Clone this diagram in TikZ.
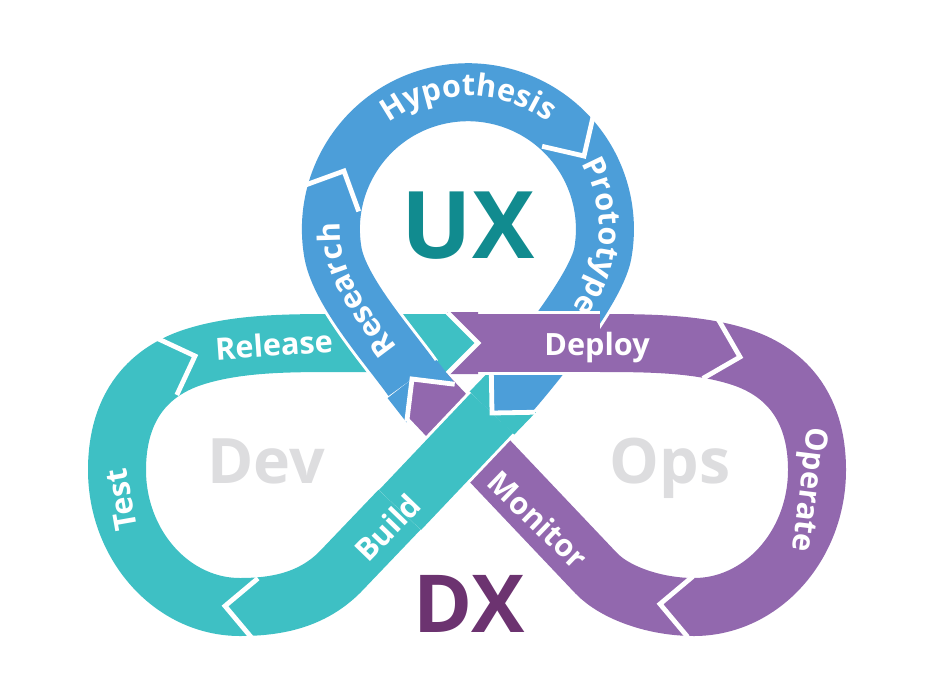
\documentclass[tikz,border=0pt]{standalone}
\usepackage{fontspec}
\setmainfont{Open Sans}
\usetikzlibrary{decorations.text}

\definecolor{uxblue}{RGB}{76,158,217}
\definecolor{devteal}{RGB}{62,192,196}
\definecolor{opspurple}{RGB}{146,104,174}
\definecolor{uxtext}{RGB}{17,139,143}
\definecolor{dxtext}{RGB}{108,51,112}
\definecolor{loopgrey}{RGB}{221,221,223}

\newcommand{\bandfont}{\fontsize{23}{27}\selectfont\bfseries}

\begin{document}
\begin{tikzpicture}[x=0.75pt,y=0.75pt,yscale=-1,xscale=1,
  band/.style={line width=43.5pt},
  over/.style={preaction={draw=white, line width=48pt}},
  chev/.style={draw=white, line width=3.6pt},
  lbl/.style={text=white, font=\bandfont, inner sep=0pt, text height=16.4pt, text depth=0pt},
  bigtext/.style={font=\fontsize{#1}{#1}\selectfont\bfseries, inner sep=0pt, text height=0.714*#1, text depth=0pt}
]
\useasboundingbox (0,0) rectangle (927,699);

% junctions where the colour changes
\coordinate (J1) at (478,343);
\coordinate (J2) at (492,413);
\coordinate (J3) at (412,379);

% Build, Test and Release
\draw[band, devteal] (J2) -- (340,572) .. controls (312,600) and (277,607) .. (240,607)
  .. controls (172,607) and (117,545) .. (117,470)
  .. controls (117,405) and (150,370) .. (197,356)
  .. controls (240,343) and (290,343) .. (340,343) -- (J1);

% Deploy, Operate and Monitor
\draw[band, opspurple] (J1) -- (594,343) .. controls (644,343) and (694,343) .. (737,356)
  .. controls (784,370) and (817,405) .. (817,470)
  .. controls (817,545) and (762,607) .. (694,607)
  .. controls (655,607) and (615,593) .. (596,573) -- (J3);

% Research, Hypothesis, Prototype
\draw[band, uxblue, over] (J3) .. controls (390,348) and (340,292) .. (333,253)
  arc[start angle=170, end angle=370, radius=137]
  .. controls (596,292) and (520,384) .. (J2);

% Monitor -> Research
\fill[uxblue] (J3) -- ++(322:31) -- ++(52:31) -- cycle;
\fill[uxblue] (J3) -- ++(142:31) -- ++(52:31) -- cycle;
\draw[chev] (J3) ++(7:43) -- (J3) -- ++(97:43);

% Build again, over Monitor
\draw[band, devteal, over] (J2) -- (400,510);

% Prototype -> Build
\fill[devteal] (J2) -- ++(224:31) -- ++(314:31) -- cycle;
\fill[devteal] (J2) -- ++(44:31) -- ++(314:31) -- cycle;
\draw[chev] (J2) ++(269:43) -- (J2) -- ++(359:43);

% Deploy again, over Prototype
\draw[band, opspurple, over] (J1) -- (600,343);

% Release -> Deploy
\fill[opspurple] (J1) -- ++(90:31) -- ++(180:31) -- cycle;
\fill[opspurple] (J1) -- ++(270:31) -- ++(180:31) -- cycle;
\draw[chev] (J1) ++(135:43) -- (J1) -- ++(225:43);

% chevrons inside one colour
\foreach \x/\y/\a in {195/356/340, 225/606/185, 740/357/15, 660/604/185, 344/171/295, 584/156/58}
  \draw[chev] (\x,\y) ++(\a+135:43) -- (\x,\y) -- ++(\a-135:43);

% curved labels
\path[decorate, decoration={text along path, text={|\bandfont|Hypothesis}, text color=white, text align=center}]
  (366.1,143.5) arc[start angle=220, end angle=320, radius=133];
\path[decorate, decoration={text along path, text={|\bandfont|Prototype}, text color=white, text align=center}]
  (568.4,144.8) arc[start angle=-40, end angle=47, radius=131];
\path[decorate, decoration={text along path, text={|\bandfont|Research}, text color=white, text align=center}]
  (420,378) .. controls (398,346) and (349,291) .. (342,251) arc[start angle=170, end angle=200, radius=128];

% straight labels
\node[lbl, rotate=4] (release) at (274,345) {Release};
\node[lbl] (deploy) at (597,345) {Deploy};
\node[lbl, rotate=46] (build) at (388,528) {Build};
\node[lbl, rotate=-44] (monitor) at (538,520) {Monitor};
\node[lbl, rotate=100] (test) at (121,500) {Test};
\node[lbl, rotate=-97] (operate) at (811,490) {Operate};

% loop names
\node[bigtext=70, text=uxtext] (ux) at (468,225) {UX};
\node[bigtext=47, text=loopgrey] (dev) at (266,461) {Dev};
\node[bigtext=47, text=loopgrey] (ops) at (670,461) {Ops};
\node[bigtext=60, text=dxtext] (dx) at (469,604) {DX};
\end{tikzpicture}
\end{document}
